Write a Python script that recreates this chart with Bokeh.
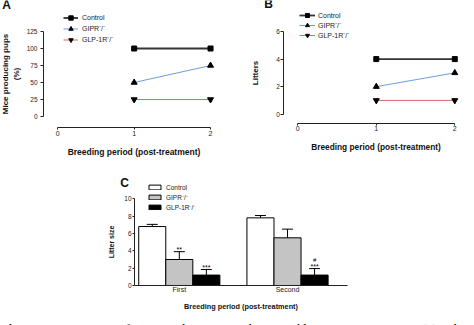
from bokeh.plotting import figure
from bokeh.models import (Range1d, FixedTicker, Legend, LegendItem, Label,
                          Whisker, TeeHead, ColumnDataSource)
from bokeh.layouts import column, row
from bokeh.embed import file_html
from bokeh.resources import INLINE

FONT = "Liberation Sans"
CAP_FONT = "Liberation Serif"

# ---------------- data ----------------
periods = [1, 2]
period_ticks = [0, 1, 2]

pct_control = [100, 100]
pct_gipr = [50, 75]
pct_glp1r = [25, 25]
pct_ticks = [0, 25, 50, 75, 100, 125]

lit_control = [4, 4]
lit_gipr = [2, 3]
lit_glp1r = [1, 1]
lit_ticks = [0, 2, 4, 6]

size_groups = ["First", "Second"]
group_pos = [1, 2]
size_control = [6.8, 7.8]
size_control_err = [0.25, 0.27]
size_gipr = [3.0, 5.5]
size_gipr_err = [0.9, 1.0]
size_glp1r = [1.2, 1.2]
size_glp1r_err = [0.65, 0.75]
size_ticks = [0, 2, 4, 6, 8, 10]

sig_stars_group = [0, 0, 1]
sig_stars_series = ["gipr", "glp1r", "glp1r"]
sig_stars_text = ["**", "***", "***"]
sig_hash_group = [1]
sig_hash_series = ["glp1r"]
sig_hash_text = ["#"]

legend_names = ["Control", "GIPR\u207b/\u207b", "GLP-1R\u207b/\u207b"]
caption_bold = "Figure 5."
caption_rest = "Percentage of mice producing pups, litters and litter size in WT, GIPR\u207b/\u207b and GLP-1R\u207b/\u207b mice"

C_CONTROL = "#333333"
C_GIPR = "#6b9fdc"
C_GLP = "#e2646e"


def base_fig(width, height, xr, yr):
    # the frame covers the whole canvas; axes are pinned with fixed_location
    p = figure(width=width, height=height, x_range=xr, y_range=yr,
               output_backend="svg", toolbar_location=None,
               min_border_left=0, min_border_right=0,
               min_border_top=0, min_border_bottom=0)
    p.title.visible = False
    p.outline_line_color = None
    p.grid.visible = False
    p.background_fill_color = "white"
    p.border_fill_color = "white"
    return p


def style_axis(ax, ticks, bounds, loc, tick_size, label_size, tick_out,
               lab_standoff, axis_standoff):
    ax.fixed_location = loc
    ax.ticker = FixedTicker(ticks=ticks)
    if bounds is not None:
        ax.bounds = bounds
    ax.axis_line_color = "#222222"
    ax.axis_line_width = 1
    ax.major_tick_line_color = "#222222" if tick_out > 0 else None
    ax.major_tick_out = tick_out
    ax.major_tick_in = 0
    ax.minor_tick_line_color = None
    ax.major_label_text_font = FONT
    ax.major_label_text_font_size = tick_size
    ax.major_label_text_color = "#222222"
    ax.major_label_standoff = lab_standoff
    ax.axis_label_text_font = FONT
    ax.axis_label_text_font_style = "bold"
    ax.axis_label_text_font_size = label_size
    ax.axis_label_text_color = "#111111"
    ax.axis_label_standoff = axis_standoff


def style_legend(leg, gw, gh, lh, standoff, fs):
    leg.background_fill_alpha = 0
    leg.border_line_color = None
    leg.padding = 0
    leg.margin = 0
    leg.spacing = 0
    leg.glyph_width = gw
    leg.glyph_height = gh
    leg.label_height = lh
    leg.label_standoff = standoff
    leg.label_text_font = FONT
    leg.label_text_font_size = fs
    leg.label_text_color = "#222222"


def panel_letter(p, text, x, y):
    p.add_layout(Label(x=x, y=y, x_units="screen", y_units="screen", text=text,
                       text_font=FONT, text_font_style="bold", text_font_size="12px",
                       text_align="center", text_baseline="middle",
                       text_color="#111111"))


def line_panel(p, ctrl, gipr, glp, vx, vy):
    l1 = p.line(periods, ctrl, line_color=C_CONTROL, line_width=1.8)
    s1 = p.scatter(periods, ctrl, marker="square", size=5, color="black")
    l2 = p.line(periods, gipr, line_color=C_GIPR, line_width=1)
    s2 = p.scatter(periods, gipr, marker="triangle", size=6, color="black")
    l3 = p.line(periods, glp, line_color=C_GLP, line_width=1)
    s3 = p.scatter(periods, glp, marker="inverted_triangle", size=6, color="black")
    leg = Legend(items=[LegendItem(label=legend_names[0], renderers=[l1, s1]),
                        LegendItem(label=legend_names[1], renderers=[l2, s2]),
                        LegendItem(label=legend_names[2], renderers=[l3, s3])],
                 location=(vx, vy))
    return leg


# ---------------- Panel A ----------------
pA = base_fig(237, 165, Range1d(-0.750, 2.353), Range1d(-72.06, 170.59))
legA = line_panel(pA, pct_control, pct_gipr, pct_glp1r, 63, 120)
style_legend(legA, 15, 11, 11, 4, "7px")
pA.add_layout(legA)
pA.xaxis.axis_label = "Breeding period (post-treatment)"
pA.yaxis.axis_label = "Mice producing pups\n(%)"
style_axis(pA.xaxis[0], period_ticks, (0, 2), -16.18, "7px", "8.5px", 2, 1, 8)
style_axis(pA.yaxis[0], pct_ticks, (0, 125), -0.187, "6.5px", "8px", 3, 3, 3)
panel_letter(pA, "A", 6, 161)

# ---------------- Panel B ----------------
pB = base_fig(237, 165, Range1d(-0.768, 2.251), Range1d(-3.723, 8.251))
legB = line_panel(pB, lit_control, lit_gipr, lit_glp1r, 62, 125)
style_legend(legB, 16, 10, 10, 3, "7px")
pB.add_layout(legB)
pB.xaxis.axis_label = "Breeding period (post-treatment)"
pB.yaxis.axis_label = "Litters"
style_axis(pB.xaxis[0], period_ticks, (0, 2), -0.653, "7px", "8.3px", 2, 1, 7)
style_axis(pB.yaxis[0], lit_ticks, (0, 6), -0.178, "6.5px", "8px", 3, 1, 13)
panel_letter(pB, "B", 31, 162)

# ---------------- Panel C ----------------
pC = base_fig(474, 160, Range1d(-0.6525, 3.728), Range1d(-4.614, 13.84))

BW = 0.25
series = {
    "control": (size_control, size_control_err, -BW, "white"),
    "gipr": (size_gipr, size_gipr_err, 0.0, "#c4c4c4"),
    "glp1r": (size_glp1r, size_glp1r_err, BW, "black"),
}
bar_renderers = []
tops = {}
for key, (vals, errs, off, fill) in series.items():
    xs = [g + off for g in group_pos]
    hi = [v + e for v, e in zip(vals, errs)]
    tops[key] = (xs, hi)
    src = ColumnDataSource(dict(x=xs, top=vals, hi=hi))
    r = pC.vbar(x="x", top="top", width=BW, source=src, fill_color=fill,
                line_color="black", line_width=1)
    bar_renderers.append(r)
    pC.add_layout(Whisker(base="x", lower="top", upper="hi", source=src,
                          line_color="black", line_width=1,
                          upper_head=TeeHead(size=11, line_color="black", line_width=1),
                          lower_head=None))

sx = [tops[s][0][g] for g, s in zip(sig_stars_group, sig_stars_series)]
sy = [tops[s][1][g] for g, s in zip(sig_stars_group, sig_stars_series)]
pC.text(x=sx, y=sy, text=sig_stars_text, text_font_size="7px", text_align="center",
        text_baseline="middle", y_offset=-2, text_color="black")
hx = [tops[s][0][g] for g, s in zip(sig_hash_group, sig_hash_series)]
hy = [tops[s][1][g] for g, s in zip(sig_hash_group, sig_hash_series)]
pC.text(x=hx, y=hy, text=sig_hash_text, text_font_size="6px", text_align="center",
        text_baseline="middle", y_offset=-9, text_color="black")

legC = Legend(items=[LegendItem(label=n, renderers=[r]) for n, r in zip(legend_names, bar_renderers)],
              location=(147, 113))
style_legend(legC, 15, 6, 10, 4, "6.5px")
pC.add_layout(legC)

pC.xaxis.axis_label = "Breeding period (post-treatment)"
pC.yaxis.axis_label = "Litter size"
style_axis(pC.xaxis[0], group_pos, (0.586, 2.555), 0, "7px", "7.3px", 0, 1, 5)
pC.xaxis[0].major_label_overrides = {g: n for g, n in zip(group_pos, size_groups)}
style_axis(pC.yaxis[0], size_ticks, (0, 10), 0.586, "6.5px", "7px", 2, 1, 6)
panel_letter(pC, "C", 124, 143)

pC.add_layout(Label(x=0, y=-3, x_units="screen", y_units="screen", text=caption_bold,
                    text_font=CAP_FONT, text_font_style="bold", text_font_size="13px",
                    text_baseline="alphabetic", text_color="black"))
pC.add_layout(Label(x=58, y=-3, x_units="screen", y_units="screen", text=caption_rest,
                    text_font=CAP_FONT, text_font_size="13px",
                    text_baseline="alphabetic", text_color="black"))

layout = column(row(pA, pB), pC)
open("out.html", "w").write(file_html(layout, INLINE))
